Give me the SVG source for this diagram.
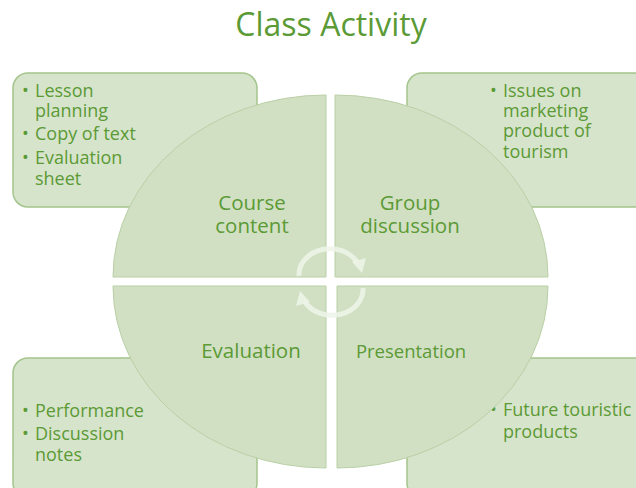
<svg xmlns="http://www.w3.org/2000/svg" width="636" height="488" viewBox="0 0 636 488">
<defs>
<style>
.box{fill:#d7e4cc;stroke:#a4c48b;stroke-width:1.5}
.q{fill:#d1e0c3;stroke:#b9d0a6;stroke-width:1}
.t{font-family:"Open Sans","Noto Sans",sans-serif;fill:#5b9a35}
.b{font-size:18px}
.c{font-size:20.5px;text-anchor:middle}
.p{font-size:18.5px}
.arc{fill:none;stroke:#eef4ea;stroke-opacity:0.85;stroke-width:5}
.ah{fill:#eef4ea;fill-opacity:0.85}
</style>
</defs>
<rect width="636" height="488" fill="#ffffff"/>
<text class="t" x="331" y="36" font-size="32" text-anchor="middle">Class Activity</text>
<g id="box-tl"><rect class="box" x="13" y="73" width="244" height="134" rx="15"/>
<text class="t b"><tspan x="22" y="97">•</tspan><tspan x="35" y="97">Lesson</tspan><tspan x="35" y="117">planning</tspan><tspan x="22" y="140">•</tspan><tspan x="35" y="140">Copy of text</tspan><tspan x="22" y="164">•</tspan><tspan x="35" y="164">Evaluation</tspan><tspan x="35" y="185">sheet</tspan></text></g>
<g id="box-tr"><rect class="box" x="407" y="73" width="250" height="134" rx="15"/>
<text class="t b"><tspan x="490" y="97">•</tspan><tspan x="503" y="97">Issues on</tspan><tspan x="503" y="117">marketing</tspan><tspan x="503" y="137">product of</tspan><tspan x="503" y="158">tourism</tspan></text></g>
<g id="box-bl"><rect class="box" x="13" y="358" width="244" height="140" rx="15"/>
<text class="t b"><tspan x="22" y="417">•</tspan><tspan x="35" y="417">Performance</tspan><tspan x="22" y="440">•</tspan><tspan x="35" y="440">Discussion</tspan><tspan x="35" y="461">notes</tspan></text></g>
<g id="box-br"><rect class="box" x="407" y="358" width="250" height="140" rx="15"/>
<text class="t b"><tspan x="490" y="416">•</tspan><tspan x="503" y="416">Future touristic</tspan><tspan x="503" y="438">products</tspan></text></g>
<g id="q-tl"><path class="q" d="M326,277 L113,277 A213,182 0 0 1 326,95 Z"/>
<text class="t c"><tspan x="252" y="210">Course</tspan><tspan x="252" y="233">content</tspan></text></g>
<g id="q-tr"><path class="q" d="M335,277 L335,95 A213,182 0 0 1 548,277 Z"/>
<text class="t c"><tspan x="410" y="210">Group</tspan><tspan x="410" y="233">discussion</tspan></text></g>
<g id="q-bl"><path class="q" d="M326,286 L326,468 A213,182 0 0 1 113,286 Z"/>
<text class="t c" x="251" y="358">Evaluation</text></g>
<g id="q-br"><path class="q" d="M337,286 L548,286 A211,182 0 0 1 337,468 Z"/>
<text class="t c p" x="411" y="358">Presentation</text></g>
<g id="connectors">
<path class="arc" d="M299,276 A31,26 0 0 1 357,262"/>
<path class="ah" d="M352,262 L366,258 L362,273 Z"/>
<path class="arc" d="M363,288 A31,26 0 0 1 305,302"/>
<path class="ah" d="M310,302 L296,306 L300,291 Z"/>
</g>
</svg>
